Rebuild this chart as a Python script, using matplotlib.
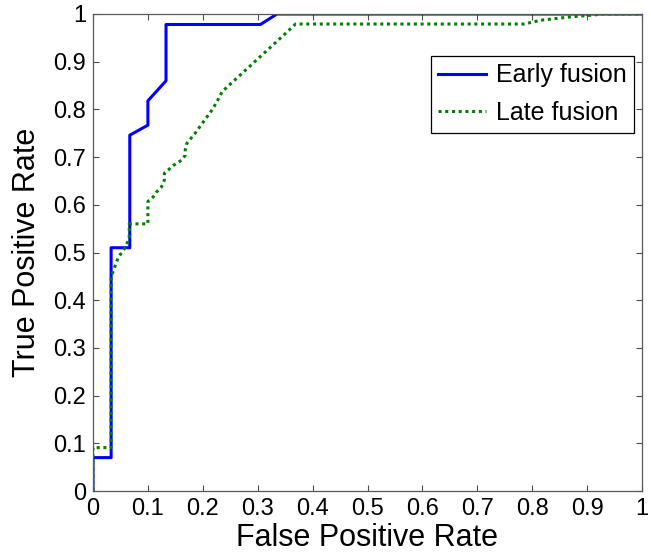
import matplotlib
matplotlib.use("Agg")
import matplotlib.pyplot as plt

plt.rcParams['font.family'] = ['Liberation Sans', 'DejaVu Sans']

# ROC 曲线数据
early_fpr = [0, 0, 0.033, 0.033, 0.067, 0.067, 0.1, 0.1, 0.133, 0.133, 0.305, 0.335, 1]
early_tpr = [0, 0.07, 0.07, 0.51, 0.51, 0.746, 0.767, 0.818, 0.86, 0.978, 0.978, 1, 1]

late_fpr = [0, 0, 0.033, 0.033, 0.046, 0.058, 0.066, 0.066, 0.1, 0.1, 0.110, 0.116,
            0.125, 0.130, 0.130, 0.147, 0.162, 0.168, 0.168, 0.171, 0.186, 0.217,
            0.229, 0.235, 0.341, 0.369, 0.785, 0.816, 0.870, 0.913, 0.925, 1]
late_tpr = [0, 0.091, 0.091, 0.449, 0.49, 0.509, 0.53, 0.56, 0.56, 0.607, 0.617, 0.627,
            0.638, 0.652, 0.666, 0.683, 0.694, 0.704, 0.715, 0.729, 0.75, 0.799,
            0.823, 0.837, 0.949, 0.979, 0.979, 0.987, 0.994, 0.998, 1, 1]

ticks = [0, 0.1, 0.2, 0.3, 0.4, 0.5, 0.6, 0.7, 0.8, 0.9, 1]
tick_labels = ['0', '0.1', '0.2', '0.3', '0.4', '0.5', '0.6', '0.7', '0.8', '0.9', '1']

fig = plt.figure(figsize=(6.51, 5.56), dpi=100, facecolor='white')
ax = fig.add_axes([93 / 651, 65 / 556, 549 / 651, 477 / 556])

ax.plot(early_fpr, early_tpr, color=(0, 0, 1), lw=2.2, label='Early fusion')
ax.plot(late_fpr, late_tpr, color=(0, 0.5, 0), lw=2.2, linestyle=(0, (1, 1.2)),
        label='Late fusion')

ax.set_xlim(0, 1)
ax.set_ylim(0, 1)
ax.set_xticks(ticks)
ax.set_xticklabels(tick_labels)
ax.set_yticks(ticks)
ax.set_yticklabels(tick_labels)
ax.tick_params(direction='in', top=True, right=True, length=4, width=0.8,
               labelsize=17, color='0.3', pad=5)
for s in ax.spines.values():
    s.set_color('0.35')
    s.set_linewidth(0.9)

ax.set_xlabel('False Positive Rate', fontsize=22, labelpad=2)
ax.set_ylabel('True Positive Rate', fontsize=22, labelpad=8)

leg = ax.legend(loc='upper right', bbox_to_anchor=(0.985, 0.912), fontsize=18,
                fancybox=False, edgecolor='black', framealpha=1, borderaxespad=0,
                borderpad=0.3, labelspacing=0.55, handlelength=1.9, handletextpad=0.4)
leg.get_frame().set_linewidth(0.9)

fig.savefig('out.png', dpi=100, facecolor='white')
